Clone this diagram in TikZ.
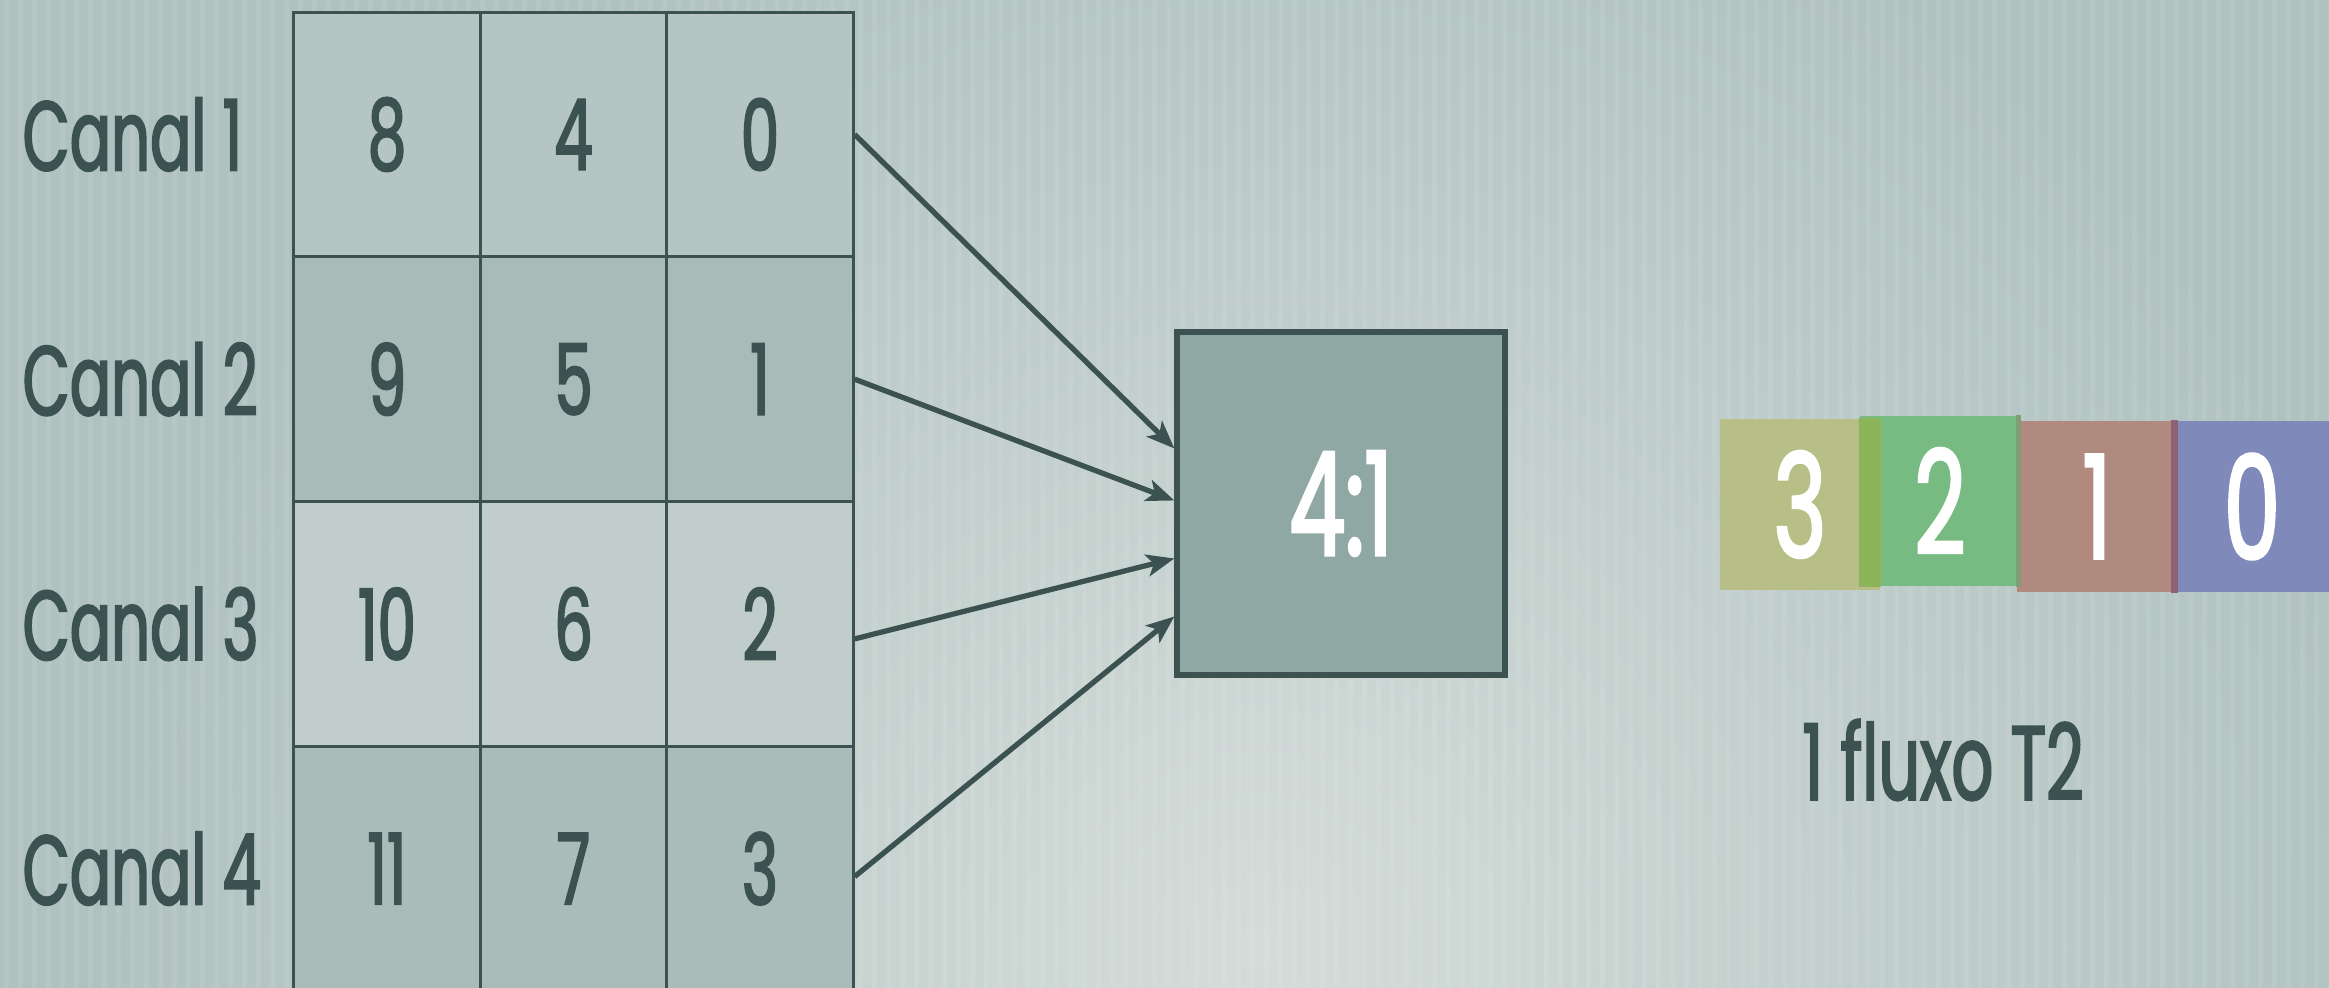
\documentclass[tikz,border=0pt]{standalone}
\usepackage{fontspec}
\newfontfamily\cond{Poppins}[FakeStretch=0.62, FakeBold=1.9]
\usetikzlibrary{positioning}
\usetikzlibrary{arrows.meta}

\definecolor{ink}{HTML}{3B5251}
\definecolor{fundo}{HTML}{B0C2C0}
\definecolor{luz}{HTML}{D4DCD9}
\definecolor{linhaA}{HTML}{B5C5C3}
\definecolor{linhaB}{HTML}{A8BBB8}
\definecolor{linhaC}{HTML}{C0CDCB}
\definecolor{linhaD}{HTML}{AABCB9}
\definecolor{muxcor}{HTML}{8FA8A3}
\definecolor{amarelo}{HTML}{B7BF86}
\definecolor{verde}{HTML}{77BB83}
\definecolor{vermelho}{HTML}{B0897F}
\definecolor{azul}{HTML}{7F89BA}
\definecolor{mistVA}{HTML}{8CB55B}
\definecolor{mistVV}{HTML}{7E9E76}
\definecolor{mistRA}{HTML}{8F6178}

\newcommand{\fonteA}{\cond\fontsize{28}{30}\selectfont}
\newcommand{\fonteB}{\cond\fontsize{41}{42}\selectfont}

\tikzset{
	cell/.style = {draw = ink, line width = 0.8pt, minimum width = 1.865cm, minimum height = 2.447cm, inner sep = 0pt, text = ink, font = \fonteA},
	canal/.style = {anchor = west, inner sep = 0pt, text = ink, font = \fonteA},
	seta/.style = {ink, line width = 1.5pt, -{Stealth[length = 0.28cm, width = 0.22cm, inset = 0.07cm]}},
	quadro/.style = {minimum width = 1.6cm, minimum height = 1.71cm, inner sep = 0pt, text = white, font = \fonteB}
}

\begin{document}
\begin{tikzpicture}
	\useasboundingbox (0, 0) rectangle (23.29, 9.88);
	\clip (0, 0) rectangle (23.29, 9.88);
	% fundo
	\fill[fundo] (0, 0) rectangle (23.29, 9.88);
	\shade[inner color = luz, outer color = fundo] (12.6, 0.4) circle (11.5);
	\foreach \x in {0.04, 0.18, ..., 23.3} \fill[white, opacity = 0.08] (\x, 0) rectangle +(0.05, 9.88);

	% canais
	\foreach \r/\cor in {1/linhaA, 2/linhaB, 3/linhaC, 4/linhaD} {
		\node at (0.22, {8.535 - 2.447*(\r - 1)}) [canal] (l\r) {Canal \r};
		\foreach \c in {1, 2, 3} {
			\pgfmathtruncatemacro{\v}{4*(3 - \c) + \r - 1}
			\node at ({3.87 + 1.865*(\c - 1)}, {8.535 - 2.447*(\r - 1)}) [cell, fill = \cor] (c\r\c) {\v};
		}
	}

	% multiplexador
	\node at (13.41, 4.845) [draw = ink, line width = 1.5pt, fill = muxcor, minimum width = 3.28cm, minimum height = 3.43cm, text = white, font = \fonteB] (mux) {4:1};
	\draw[seta] (c13.east) -- ([yshift = 0.55cm] mux.west);
	\draw[seta] (c23.east) -- ([yshift = 0.03cm] mux.west);
	\draw[seta] ([yshift = -0.15cm] c33.east) -- ([yshift = -0.55cm] mux.west);
	\draw[seta] ([yshift = -0.08cm] c43.east) -- ([yshift = -1.13cm] mux.west);

	% fluxo T2
	\node at (18.00, 4.835) [quadro, fill = amarelo] (q3) {3};
	\node at (19.40, 4.87) [quadro, fill = verde, minimum height = 1.70cm] (q2) {2};
	\node at (20.97, 4.815) [quadro, fill = vermelho] (q1) {1};
	\node at (22.52, 4.815) [quadro, fill = azul] (q0) {0};
	\fill[mistVA] (q2.west |- q3.north) rectangle (q3.east |- q2.south);
	\fill[mistVV] (q1.west |- q2.north) rectangle (q2.east |- q2.south);
	\fill[mistRA] (q0.west |- q1.north) rectangle (q1.east |- q1.south);
	\node at (19.43, 2.28) [text = ink, font = \cond\fontsize{30}{32}\selectfont, inner sep = 0pt] (fluxo) {1 fluxo T2};
\end{tikzpicture}
\end{document}
